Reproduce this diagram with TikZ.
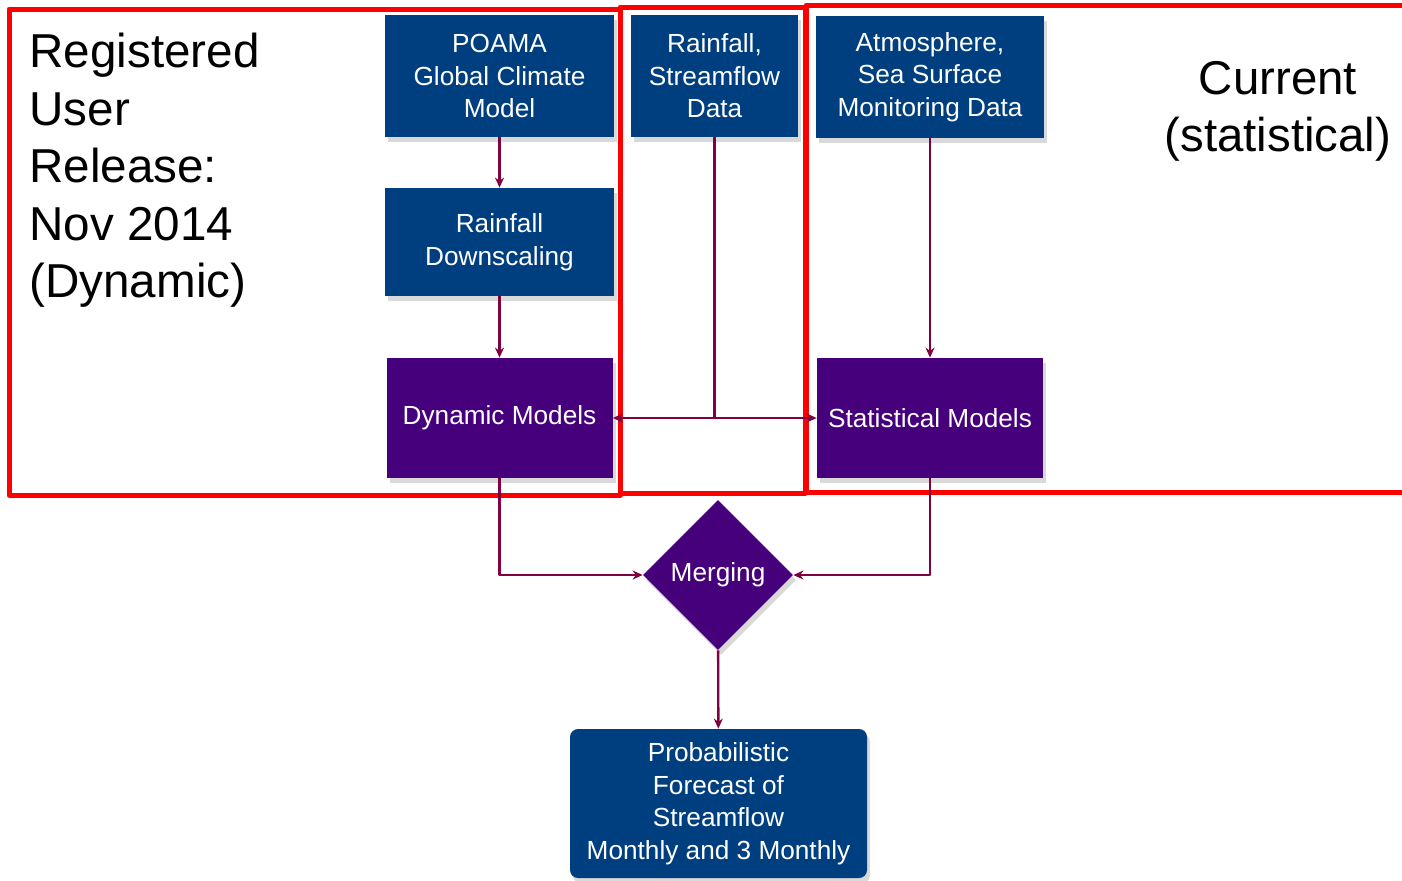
\documentclass[tikz,border=0pt]{standalone}
\usepackage{fontspec}
\setmainfont{Liberation Sans}
\usetikzlibrary{shapes.geometric,arrows.meta,shadows}
\definecolor{boxblue}{RGB}{0,63,127}
\definecolor{boxpurple}{RGB}{70,0,124}
\definecolor{flowred}{RGB}{128,0,64}
\definecolor{framered}{RGB}{255,0,0}
\tikzset{
  basebox/.style={text=white, align=center, inner sep=0pt,
    font=\fontsize{13.1}{16.25}\selectfont,
    drop shadow={shadow xshift=1.5pt, shadow yshift=-2.5pt, opacity=0.3}},
  databox/.style={basebox, fill=boxblue},
  modelbox/.style={basebox, fill=boxpurple},
  flow/.style={draw=flowred, line width=1.2pt, -{Stealth[length=5pt,width=4.5pt]}},
  frame/.style={draw=framered, line width=2.5pt},
  bigtext/.style={inner sep=0pt, text=black}
}
\begin{document}
\begin{tikzpicture}[x=0.5pt, y=-0.5pt, line join=round]
  \useasboundingbox (0,0) rectangle (1402,880);
  % release frames
  \draw[frame] (9,9) rectangle (620,495);
  \draw[frame] (806,5) rectangle (1420,492);
  \draw[frame] (620,7) rectangle (805,493);
  % input boxes
  \node[databox, minimum width=114.5pt, minimum height=61pt] (poama) at (499.5,76)
    {POAMA\\Global Climate\\Model};
  \node[databox, minimum width=83.5pt, minimum height=61pt] (rainfall) at (714.5,76)
    {Rainfall,\\Streamflow\\Data};
  \node[databox, minimum width=114pt, minimum height=61pt] (atmos) at (930,77)
    {Atmosphere,\\Sea Surface\\Monitoring Data};
  \node[databox, minimum width=114.5pt, minimum height=54pt] (downscale) at (499.5,242)
    {Rainfall\\Downscaling};
  % models
  \node[modelbox, minimum width=113pt, minimum height=60pt] (dynamic) at (499.5,418)
    {Dynamic Models};
  \node[modelbox, minimum width=113pt, minimum height=60pt] (statistical) at (930,418)
    {Statistical Models};
  \node[modelbox, diamond, minimum size=75pt] (merging) at (718,575) {Merging};
  \node[databox, rounded corners=4pt, minimum width=148.5pt, minimum height=74.5pt] (forecast) at (718.5,803.5)
    {Probabilistic\\Forecast of\\Streamflow\\Monthly and 3 Monthly};
  % labels
  \node[bigtext, anchor=north west, align=left, font=\fontsize{23.8}{28.75}\selectfont] (reglabel) at (29,33)
    {Registered\\User\\Release:\\Nov 2014\\(Dynamic)};
  \node[bigtext, anchor=north, align=center, font=\fontsize{23.7}{28.5}\selectfont] (curlabel) at (1278,61)
    {Current\\(statistical)};
  % connectors
  \draw[flow] (poama) -- (downscale);
  \draw[flow] (downscale) -- (dynamic);
  \draw[flow] (atmos.south) -- (statistical.north);
  \draw[flow] (rainfall.south) |- (dynamic.east);
  \draw[flow] (rainfall.south) |- (statistical.west);
  \draw[flow] (dynamic.south) |- (merging.west);
  \draw[flow] (statistical.south) |- (merging.east);
  \draw[flow] (merging) -- (forecast);
\end{tikzpicture}
\end{document}
